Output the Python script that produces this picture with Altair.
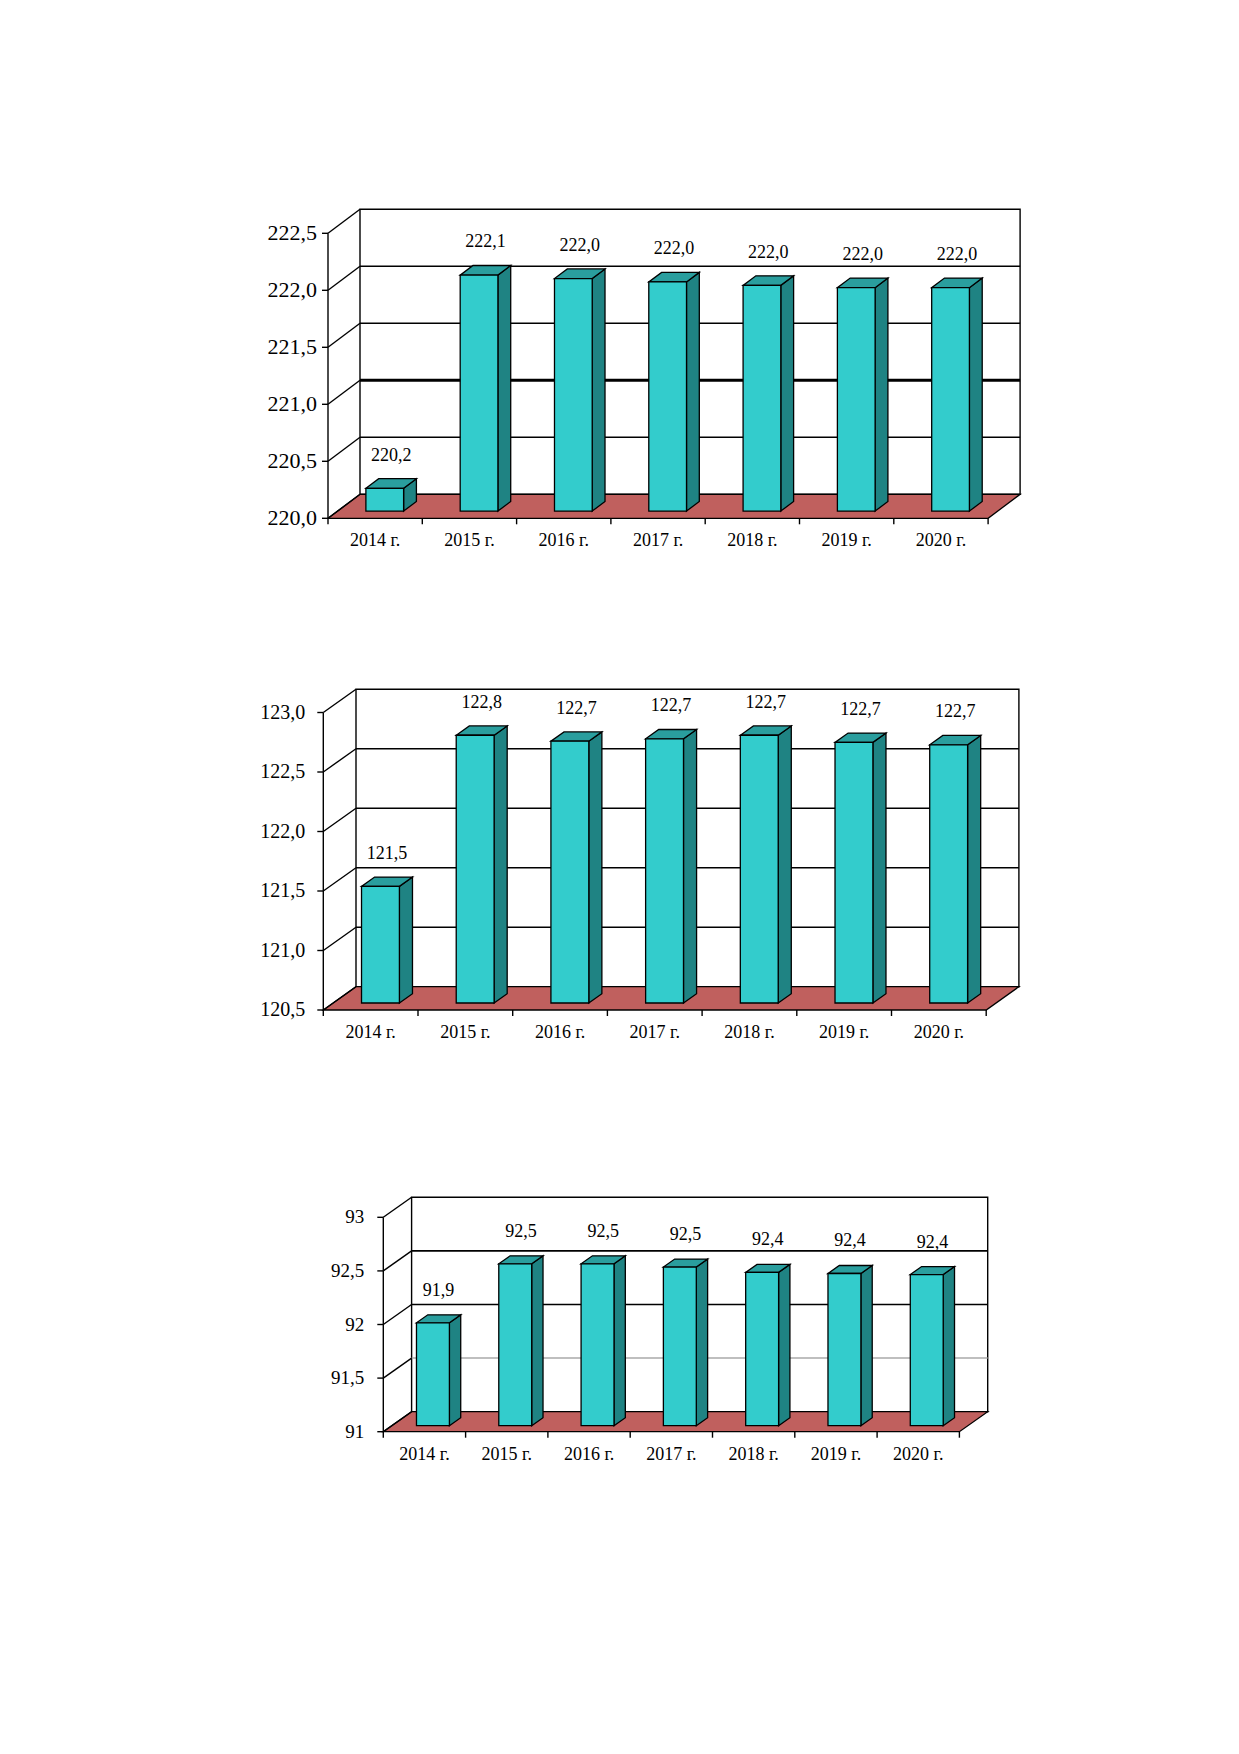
import altair as alt
import pandas as pd

# ---------------- data ----------------
YEARS = ["2014 г.", "2015 г.", "2016 г.", "2017 г.", "2018 г.", "2019 г.", "2020 г."]

VALUES_1 = [220.20, 222.07, 222.04, 222.01, 221.98, 221.96, 221.96]
LABELS_1 = ["220,2", "222,1", "222,0", "222,0", "222,0", "222,0", "222,0"]
TICKS_1 = [220.0, 220.5, 221.0, 221.5, 222.0, 222.5]
TICK_LABELS_1 = ["220,0", "220,5", "221,0", "221,5", "222,0", "222,5"]

VALUES_2 = [121.48, 122.75, 122.70, 122.72, 122.75, 122.69, 122.67]
LABELS_2 = ["121,5", "122,8", "122,7", "122,7", "122,7", "122,7", "122,7"]
TICKS_2 = [120.5, 121.0, 121.5, 122.0, 122.5, 123.0]
TICK_LABELS_2 = ["120,5", "121,0", "121,5", "122,0", "122,5", "123,0"]

VALUES_3 = [91.96, 92.51, 92.51, 92.48, 92.43, 92.42, 92.41]
LABELS_3 = ["91,9", "92,5", "92,5", "92,5", "92,4", "92,4", "92,4"]
TICKS_3 = [91.0, 91.5, 92.0, 92.5, 93.0]
TICK_LABELS_3 = ["91", "91,5", "92", "92,5", "93"]

# ---------------- geometry / style ----------------
X0 = 220      # page x of each panel's left edge
W = 830       # panel width
FONT = "Liberation Serif"
FRONT = "#33CCCC"
SIDE = "#1F8383"
TOP = "#2A9E9E"
FLOOR = "#C0605E"

G1 = dict(P=328.0, cat=94.3, base=518.3, k=114.0, dx=32.0, dy=24.0,
          top=150, bottom=600, gap=11, ysize=22)
G2 = dict(P=323.3, cat=94.7, base=1010.0, k=119.0, dx=32.7, dy=23.3,
          top=600, bottom=1100, gap=18, ysize=20)
G3 = dict(P=383.3, cat=82.3, base=1431.7, k=107.2, dx=28.3, dy=20.0,
          top=1100, bottom=1550, gap=19, ysize=19)

GRID_1 = {221.0: ("black", 3.0)}
GRID_2 = {}
GRID_3 = {91.5: ("#AAAAAA", 1.5)}


def make_chart(values, labels, ticks, tick_labels, g, grid_style):
    n = len(values)
    vmin, vmax = ticks[0], ticks[-1]
    ddx = g["dx"] / g["cat"]
    ddy = g["dy"] / g["k"]
    xa = -(g["P"] - X0) / g["cat"]
    xb = xa + W / g["cat"]
    H = g["bottom"] - g["top"]
    ya = vmin - (g["bottom"] - g["base"]) / g["k"]
    yb = vmin + (g["base"] - g["top"]) / g["k"]
    xs = alt.Scale(domain=[xa, xb], nice=False, zero=False)
    ys = alt.Scale(domain=[ya, yb], nice=False, zero=False)

    def X(f="x"):
        return alt.X(f + ":Q", scale=xs, axis=None)

    def Y(f="y"):
        return alt.Y(f + ":Q", scale=ys, axis=None)

    def seg_enc():
        return dict(x=X(), x2=alt.X2("x2"), y=Y(), y2=alt.Y2("y2"))

    layers = []

    # back wall
    wall = pd.DataFrame([dict(x=ddx, x2=n + ddx, y=vmin + ddy, y2=vmax + ddy)])
    layers.append(alt.Chart(wall).mark_rect(fill="white", stroke="black", strokeWidth=1.4)
                  .encode(**seg_enc()))

    # back wall gridlines
    rows = []
    for t in ticks[1:-1]:
        c, w = grid_style.get(t, ("black", 1.6))
        rows.append(dict(x=ddx, x2=n + ddx, y=t + ddy, y2=t + ddy, c=c, w=w))
    grid = pd.DataFrame(rows)
    layers.append(alt.Chart(grid).mark_rule().encode(
        **seg_enc(),
        color=alt.Color("c:N", scale=None),
        strokeWidth=alt.StrokeWidth("w:Q", scale=None)))

    # floor
    floor = pd.DataFrame([
        dict(x=0.0, y=vmin, y2=vmin),
        dict(x=ddx, y=vmin, y2=vmin + ddy),
        dict(x=float(n), y=vmin, y2=vmin + ddy),
        dict(x=n + ddx, y=vmin + ddy, y2=vmin + ddy),
    ])
    layers.append(alt.Chart(floor).mark_area(orient="vertical", fill=FLOOR, stroke="black",
                                             strokeWidth=1.3)
                  .encode(x=X(), y=Y(), y2=alt.Y2("y2")))

    # side wall frame, y ticks, x ticks
    rows = []
    for t in ticks:
        rows.append(dict(x=0.0, x2=ddx, y=t, y2=t + ddy))
        rows.append(dict(x=-6.0 / g["cat"], x2=0.0, y=t, y2=t))
    rows.append(dict(x=0.0, x2=0.0, y=vmin, y2=vmax))
    for i in range(n + 1):
        rows.append(dict(x=float(i), x2=float(i), y=vmin, y2=vmin - 6.0 / g["k"]))
    frame = pd.DataFrame(rows)
    layers.append(alt.Chart(frame).mark_rule(color="black", strokeWidth=1.4).encode(**seg_enc()))

    # bars
    d = 0.4 * ddx
    dd = 0.4 * ddy
    fr, sd, tp = [], [], []
    for i, v in enumerate(values):
        xl = i + 0.3 + 0.3 * ddx
        xr = i + 0.7 + 0.3 * ddx
        y0 = vmin + 0.3 * ddy
        y1 = v + 0.3 * ddy
        fr.append(dict(x=xl, x2=xr, y=y0, y2=y1))
        sd.append(dict(b=i, x=xr, y=y0, y2=y1))
        sd.append(dict(b=i, x=xr + d, y=y0 + dd, y2=y1 + dd))
        tp.append(dict(b=i, x=xl, y=y1, y2=y1))
        tp.append(dict(b=i, x=xl + d, y=y1, y2=y1 + dd))
        tp.append(dict(b=i, x=xr, y=y1, y2=y1 + dd))
        tp.append(dict(b=i, x=xr + d, y=y1 + dd, y2=y1 + dd))
    layers.append(alt.Chart(pd.DataFrame(sd)).mark_area(orient="vertical", fill=SIDE,
                                                        stroke="black", strokeWidth=1.3)
                  .encode(x=X(), y=Y(), y2=alt.Y2("y2"), detail="b:N"))
    layers.append(alt.Chart(pd.DataFrame(tp)).mark_area(orient="vertical", fill=TOP,
                                                        stroke="black", strokeWidth=1.3)
                  .encode(x=X(), y=Y(), y2=alt.Y2("y2"), detail="b:N"))
    layers.append(alt.Chart(pd.DataFrame(fr)).mark_rect(fill=FRONT, stroke="black",
                                                        strokeWidth=1.3)
                  .encode(**seg_enc()))

    # value labels
    vl = pd.DataFrame([dict(x=i + 0.5 + 0.5 * ddx, y=v + 0.5 * ddy, t=lab)
                       for i, (v, lab) in enumerate(zip(values, labels))])
    layers.append(alt.Chart(vl).mark_text(font=FONT, fontSize=18, dy=-28, baseline="middle",
                                          align="center", color="black")
                  .encode(x=X(), y=Y(), text="t:N"))

    # y tick labels
    yl = pd.DataFrame([dict(x=0.0, y=t, t=lab) for t, lab in zip(ticks, tick_labels)])
    layers.append(alt.Chart(yl).mark_text(font=FONT, fontSize=g["ysize"], dx=-g["gap"],
                                          align="right", baseline="middle", color="black")
                  .encode(x=X(), y=Y(), text="t:N"))

    # x category labels
    xl_df = pd.DataFrame([dict(x=i + 0.5, y=vmin, t=yr) for i, yr in enumerate(YEARS)])
    layers.append(alt.Chart(xl_df).mark_text(font=FONT, fontSize=18, dy=23, align="center",
                                             baseline="middle", color="black")
                  .encode(x=X(), y=Y(), text="t:N"))

    return alt.layer(*layers).properties(width=W, height=H)


c1 = make_chart(VALUES_1, LABELS_1, TICKS_1, TICK_LABELS_1, G1, GRID_1)
c2 = make_chart(VALUES_2, LABELS_2, TICKS_2, TICK_LABELS_2, G2, GRID_2)
c3 = make_chart(VALUES_3, LABELS_3, TICKS_3, TICK_LABELS_3, G3, GRID_3)

chart = alt.vconcat(c1, c2, c3, spacing=0).properties(
    padding={"left": X0 - 8, "top": G1["top"] - 8, "right": 5, "bottom": 5},
    background="white",
).configure_view(strokeWidth=0)

chart.save("out.html", embed_options={"renderer": "svg", "actions": False})
